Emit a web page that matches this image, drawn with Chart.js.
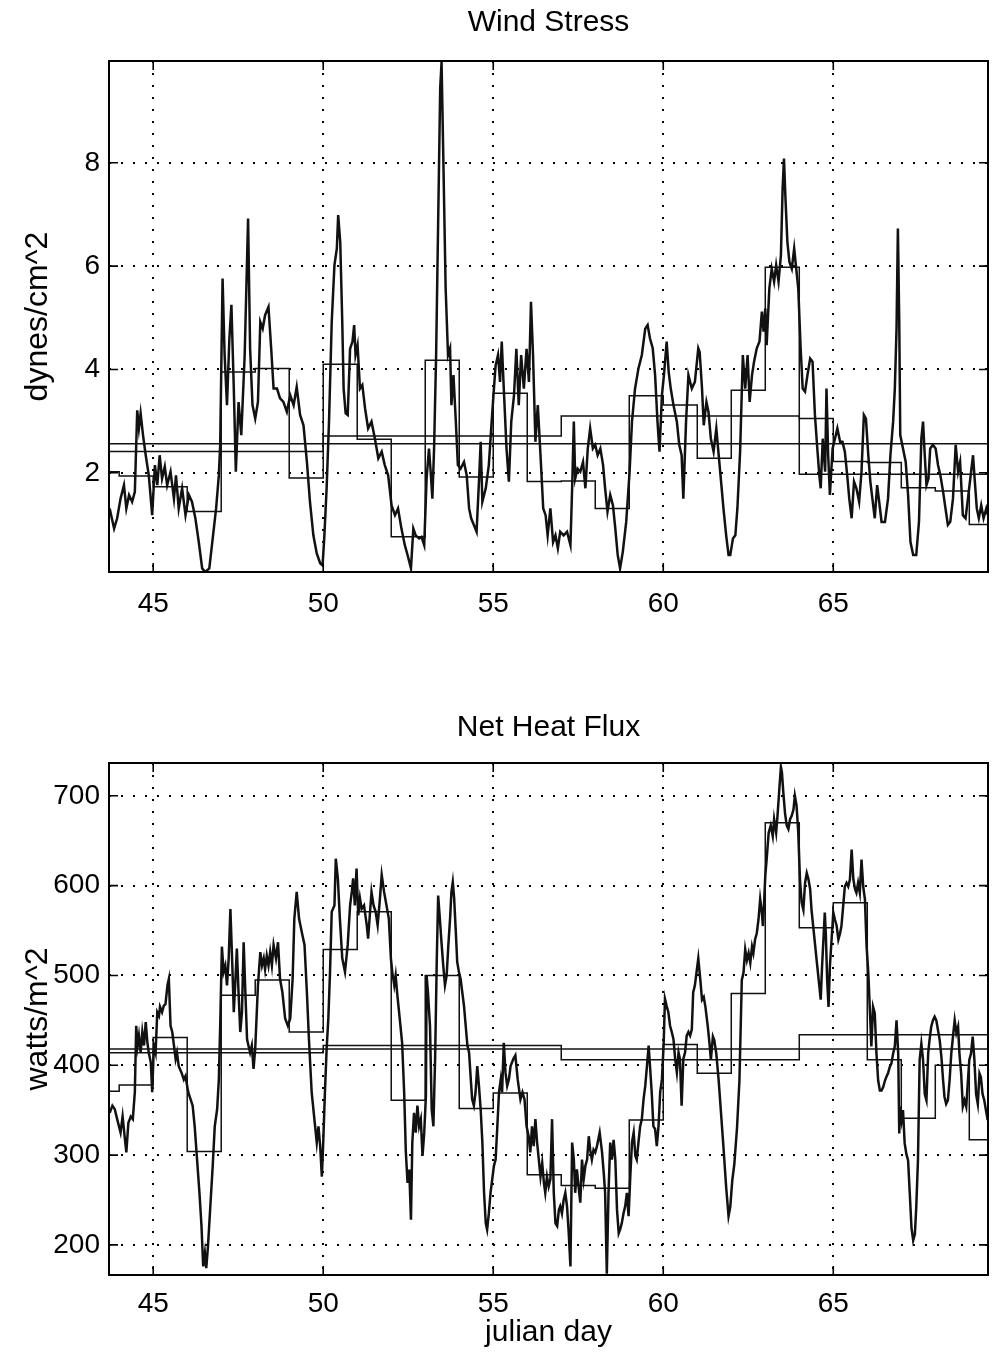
<!DOCTYPE html>
<html>
<head>
<meta charset="utf-8">
<script src="https://cdn.jsdelivr.net/npm/chart.js@4"></script>
<style>
  body { margin: 0; background: #fff; }
  .panel { position: absolute; left: 0; width: 997px; }
</style>
</head>
<body>
<div class="panel" style="top:0;height:680px"><canvas id="windChart"></canvas></div>
<div class="panel" style="top:680px;height:681px"><canvas id="heatChart"></canvas></div>
<script>
// hourly wind stress (dynes/cm^2)
var windDays = [
  43.72,43.85,43.94,44.04,44.14,44.21,44.29,44.38,44.46,44.53,
  44.58,44.63,44.7,44.78,44.87,44.97,45.05,45.12,45.19,45.26,
  45.34,45.41,45.51,45.61,45.67,45.75,45.85,45.95,46.05,46.14,
  46.24,46.34,46.44,46.53,46.65,46.75,46.85,46.93,46.97,47.04,
  47.1,47.17,47.24,47.3,47.37,47.43,47.51,47.59,47.69,47.79,
  47.85,47.92,48.0,48.08,48.15,48.22,48.29,48.39,48.47,48.54,
  48.64,48.73,48.83,48.93,49.03,49.13,49.22,49.32,49.42,49.52,
  49.61,49.71,49.81,49.91,49.98,50.03,50.1,50.17,50.25,50.33,
  50.4,50.44,50.5,50.56,50.6,50.66,50.72,50.79,50.86,50.91,
  50.95,51.01,51.08,51.15,51.23,51.32,51.42,51.52,51.62,51.72,
  51.81,51.91,52.01,52.11,52.2,52.3,52.4,52.48,52.58,52.65,
  52.72,52.82,52.89,52.97,53.04,53.11,53.16,53.21,53.26,53.32,
  53.38,53.44,53.48,53.53,53.6,53.67,53.73,53.77,53.83,53.9,
  53.96,54.04,54.14,54.22,54.29,54.35,54.43,54.51,54.58,54.63,
  54.68,54.78,54.87,54.94,55.02,55.07,55.14,55.2,55.25,55.31,
  55.39,55.46,55.53,55.61,55.68,55.75,55.82,55.9,55.98,56.05,
  56.11,56.17,56.24,56.31,56.39,56.47,56.54,56.6,56.68,56.76,
  56.83,56.9,56.97,57.07,57.17,57.27,57.32,57.37,57.41,57.48,
  57.56,57.64,57.71,57.78,57.85,57.93,58.0,58.07,58.15,58.23,
  58.29,58.36,58.44,58.52,58.59,58.66,58.73,58.81,58.91,59.01,
  59.08,59.17,59.27,59.37,59.47,59.54,59.61,59.69,59.76,59.83,
  59.89,59.96,60.02,60.1,60.16,60.22,60.3,60.4,60.47,60.54,
  60.59,60.67,60.74,60.84,60.93,61.03,61.07,61.14,61.19,61.27,
  61.33,61.4,61.48,61.56,61.63,61.7,61.77,61.85,61.92,61.97,
  62.05,62.12,62.18,62.26,62.34,62.41,62.48,62.54,62.61,62.67,
  62.75,62.83,62.9,62.95,63.0,63.04,63.12,63.19,63.26,63.32,
  63.39,63.46,63.51,63.55,63.59,63.65,63.71,63.78,63.85,63.91,
  63.97,64.04,64.1,64.17,64.24,64.32,64.39,64.46,64.53,64.59,
  64.63,64.69,64.76,64.8,64.85,64.9,64.98,65.05,65.12,65.2,
  65.27,65.34,65.41,65.47,65.54,65.61,65.68,65.76,65.83,65.9,
  65.96,66.03,66.09,66.15,66.22,66.29,66.35,66.42,66.52,66.61,
  66.68,66.76,66.81,66.86,66.9,66.94,66.97,67.05,67.13,67.2,
  67.27,67.35,67.44,67.52,67.59,67.64,67.69,67.74,67.8,67.85,
  67.93,68.01,68.08,68.15,68.23,68.3,68.37,68.44,68.52,68.6,
  68.67,68.73,68.81,68.89,68.96,69.03,69.11,69.15,69.22,69.28,
  69.35,69.42,69.5,69.55
];
var windStress = [
  1.31,0.92,1.12,1.5,1.76,1.31,1.57,1.44,1.63,3.21,
  2.86,3.15,2.73,2.34,1.95,1.18,2.15,1.76,2.34,1.89,
  2.12,1.76,2.02,1.5,1.95,1.31,1.7,1.18,1.57,1.44,
  1.12,0.66,0.15,0.08,0.15,0.73,1.31,1.95,2.54,5.76,
  4.28,3.31,4.6,5.25,3.63,2.02,3.37,2.73,4.28,6.92,
  4.4,3.31,3.05,3.37,4.92,4.79,5.05,5.21,4.4,3.63,
  3.63,3.44,3.37,3.18,3.5,3.31,3.66,3.12,2.92,2.21,
  1.44,0.79,0.44,0.25,0.21,0.73,1.7,2.99,4.92,6.02,
  6.34,6.99,6.47,4.92,3.63,3.15,3.12,4.4,4.54,4.86,
  4.28,4.47,3.63,3.7,3.25,2.86,2.99,2.66,2.28,2.41,
  2.15,1.95,1.37,1.18,1.31,0.92,0.6,0.41,0.15,0.92,
  0.79,0.73,0.76,0.6,1.89,2.47,2.02,1.5,2.47,4.28,
  6.86,9.44,9.95,8.15,5.57,4.28,4.41,3.31,3.89,2.99,
  2.15,2.08,2.21,1.95,1.31,1.12,0.99,0.86,1.83,2.6,
  1.44,1.7,2.15,2.86,3.63,4.08,4.28,3.76,4.54,3.63,
  2.47,1.83,2.99,3.5,4.4,3.31,4.28,3.63,4.4,3.76,
  5.31,4.28,2.6,3.31,2.34,1.31,1.18,0.79,1.31,0.66,
  0.79,0.54,0.86,0.79,0.86,0.6,1.7,2.99,1.89,2.08,
  2.02,2.21,1.7,2.47,2.86,2.47,2.54,2.34,2.47,2.15,
  1.7,1.25,1.57,1.37,0.92,0.41,0.15,0.47,1.05,2.02,
  2.99,3.63,4.02,4.28,4.79,4.86,4.6,4.41,3.89,2.99,
  2.41,3.5,3.89,4.54,3.95,3.63,3.31,2.99,2.54,2.34,
  1.5,2.99,3.89,3.63,3.76,4.41,4.34,3.63,2.92,3.37,
  3.18,2.66,2.41,2.86,2.34,1.83,1.31,0.79,0.41,0.41,
  0.73,0.79,1.31,2.41,4.28,3.63,4.28,3.37,3.89,4.15,
  4.41,4.54,5.12,4.73,5.18,4.47,5.57,5.95,5.7,6.02,
  5.7,6.21,7.5,8.08,7.37,6.47,6.08,5.95,6.34,5.95,
  5.57,4.41,3.63,3.57,3.89,4.21,4.15,3.12,2.47,1.95,
  1.7,2.66,2.02,3.63,2.34,1.57,2.47,2.66,2.86,2.6,
  2.6,2.41,1.95,1.5,1.12,1.83,1.7,1.44,2.02,3.12,
  3.05,2.34,1.83,1.5,1.12,1.76,1.44,1.05,1.05,1.5,
  2.34,2.99,3.63,4.79,6.73,4.92,2.73,2.47,2.21,1.57,
  0.66,0.41,0.41,1.05,2.66,2.99,2.34,1.76,1.89,2.47,
  2.54,2.47,2.15,1.95,1.63,1.31,0.99,1.05,1.5,2.54,
  2.02,2.21,1.18,1.12,1.5,1.89,2.34,1.95,1.31,1.12,
  1.37,1.12,1.31,1.18
];

// hourly net heat flux (watts/m^2)
var heatDays = [
  43.72,43.8,43.87,43.94,44.04,44.1,44.17,44.21,44.27,44.34,
  44.4,44.46,44.5,44.54,44.58,44.63,44.68,44.73,44.78,44.83,
  44.87,44.93,44.97,45.02,45.07,45.12,45.17,45.2,45.26,45.31,
  45.36,45.42,45.46,45.51,45.56,45.61,45.66,45.7,45.75,45.83,
  45.9,45.95,46.03,46.1,46.16,46.22,46.29,46.36,46.42,46.47,
  46.52,46.56,46.61,46.68,46.75,46.81,46.88,46.93,46.97,47.02,
  47.07,47.12,47.17,47.22,47.27,47.32,47.37,47.41,47.46,47.51,
  47.56,47.61,47.66,47.71,47.76,47.8,47.85,47.9,47.95,48.0,
  48.08,48.15,48.2,48.25,48.29,48.34,48.39,48.44,48.49,48.54,
  48.61,48.67,48.73,48.8,48.88,48.96,49.03,49.1,49.15,49.22,
  49.29,49.37,49.45,49.52,49.58,49.66,49.74,49.81,49.86,49.91,
  49.96,50.0,50.05,50.1,50.15,50.2,50.25,50.33,50.37,50.43,
  50.49,50.56,50.64,50.72,50.79,50.84,50.88,50.93,50.98,51.03,
  51.08,51.13,51.2,51.28,51.32,51.37,51.42,51.48,51.54,51.6,
  51.66,51.72,51.79,51.86,51.93,51.99,52.03,52.09,52.13,52.18,
  52.25,52.32,52.38,52.43,52.48,52.53,52.58,52.62,52.67,52.72,
  52.77,52.82,52.87,52.92,52.97,53.02,53.04,53.08,53.14,53.19,
  53.24,53.29,53.34,53.38,53.43,53.47,53.53,53.58,53.63,53.68,
  53.73,53.77,53.81,53.85,53.9,53.94,53.99,54.04,54.09,54.14,
  54.19,54.24,54.29,54.34,54.38,54.43,54.48,54.53,54.58,54.63,
  54.68,54.73,54.78,54.82,54.87,54.92,54.97,55.02,55.07,55.12,
  55.17,55.22,55.26,55.31,55.36,55.41,55.46,55.51,55.59,55.65,
  55.72,55.8,55.86,55.92,55.98,56.04,56.09,56.14,56.19,56.24,
  56.29,56.34,56.39,56.44,56.49,56.53,56.58,56.63,56.68,56.73,
  56.78,56.83,56.88,56.93,56.97,57.02,57.07,57.12,57.17,57.22,
  57.27,57.32,57.37,57.41,57.46,57.51,57.56,57.61,57.66,57.71,
  57.76,57.81,57.85,57.9,57.95,58.0,58.05,58.13,58.2,58.25,
  58.29,58.34,58.39,58.44,58.49,58.54,58.59,58.64,58.69,58.73,
  58.78,58.83,58.88,58.93,58.98,59.03,59.08,59.13,59.18,59.22,
  59.27,59.32,59.37,59.42,59.47,59.52,59.57,59.61,59.66,59.71,
  59.76,59.81,59.86,59.91,59.96,60.01,60.05,60.1,60.15,60.2,
  60.25,60.3,60.35,60.4,60.45,60.49,60.54,60.59,60.64,60.69,
  60.74,60.79,60.84,60.88,60.93,60.98,61.03,61.09,61.14,61.19,
  61.24,61.31,61.36,61.4,61.46,61.5,61.56,61.63,61.7,61.77,
  61.85,61.92,61.97,62.03,62.09,62.17,62.24,62.31,62.36,62.41,
  62.46,62.51,62.56,62.61,62.65,62.7,62.75,62.8,62.85,62.9,
  62.93,62.97,63.0,63.04,63.1,63.16,63.22,63.26,63.32,63.36,
  63.42,63.46,63.49,63.53,63.58,63.63,63.68,63.73,63.78,63.83,
  63.87,63.92,63.97,64.02,64.07,64.12,64.17,64.22,64.27,64.32,
  64.36,64.43,64.51,64.59,64.63,64.67,64.71,64.75,64.78,64.82,
  64.86,64.9,64.95,65.0,65.05,65.1,65.15,65.2,65.24,65.29,
  65.34,65.39,65.44,65.49,65.54,65.59,65.64,65.68,65.73,65.78,
  65.83,65.88,65.93,65.98,66.03,66.08,66.12,66.17,66.22,66.27,
  66.32,66.37,66.42,66.47,66.52,66.56,66.61,66.66,66.71,66.76,
  66.81,66.86,66.91,66.94,66.97,67.01,67.05,67.1,67.15,67.2,
  67.25,67.3,67.35,67.4,67.44,67.49,67.54,67.59,67.64,67.69,
  67.74,67.79,67.83,67.88,67.93,67.98,68.03,68.08,68.13,68.18,
  68.23,68.27,68.32,68.37,68.42,68.47,68.52,68.57,68.62,68.67,
  68.71,68.76,68.81,68.86,68.91,68.96,69.0,69.05,69.1,69.15,
  69.2,69.25,69.3,69.34,69.39,69.44,69.49,69.54
];
var heatFlux = [
  347,355,351,340,325,343,317,303,336,343,
  340,370,444,422,433,414,437,422,448,425,
  414,403,370,422,414,459,455,465,459,466,
  468,489,496,444,437,422,407,414,399,392,
  384,388,370,362,355,332,295,258,221,176,
  191,174,198,243,288,332,351,384,444,532,
  504,511,489,519,574,519,459,489,530,481,
  437,459,537,481,429,422,414,422,396,418,
  489,526,511,519,507,522,511,526,511,534,
  519,537,496,481,452,444,452,496,563,593,
  563,548,534,481,429,370,340,314,332,310,
  276,314,370,418,452,504,571,578,630,608,
  563,519,504,534,578,593,608,578,619,567,
  586,574,578,556,541,567,593,578,571,556,
  582,612,593,578,563,519,504,489,500,478,
  452,425,370,303,269,284,228,314,347,325,
  355,332,340,299,325,366,500,481,444,351,
  332,407,519,589,563,541,511,489,500,534,
  563,593,604,586,548,515,504,496,481,466,
  444,422,414,384,362,355,370,399,377,351,
  314,258,224,217,235,258,273,288,295,332,
  370,384,370,425,392,377,384,399,407,411,
  384,362,370,362,332,321,303,332,310,340,
  314,295,276,291,269,258,276,265,273,340,
  258,224,221,239,243,235,250,258,243,213,
  176,314,295,258,284,265,247,295,273,288,
  295,321,306,295,306,303,310,325,303,280,
  258,168,258,314,295,317,295,239,213,217,
  224,235,243,258,232,276,314,325,299,295,
  314,332,340,362,377,399,422,399,370,332,
  329,310,332,370,384,422,474,466,459,444,
  437,429,407,392,414,407,355,407,414,433,
  437,433,440,481,489,504,519,495,473,476,
  465,443,424,406,432,428,413,383,346,309,
  264,232,242,272,290,331,383,495,503,529,
  517,525,514,532,525,540,547,562,585,570,
  555,585,611,629,659,667,655,674,659,678,
  711,732,726,704,681,667,663,674,678,685,
  700,689,659,607,581,573,603,614,607,596,
  573,547,517,488,473,510,540,570,547,495,
  465,510,540,570,562,555,540,547,555,577,
  599,603,599,607,640,607,596,592,603,592,
  629,599,585,532,503,458,421,465,458,413,
  383,372,372,376,383,387,391,398,402,413,
  421,450,413,324,354,339,350,313,301,294,
  257,219,205,212,242,294,406,424,406,368,
  361,413,428,443,450,454,450,439,428,409,
  383,365,357,361,383,413,432,450,436,443,
  413,391,354,361,354,383,406,413,432,406,
  368,357,391,387,368,361,350,339
];

// daily means (steps), 7-day means and record mean
var dayEdges = [43.7,44,45,46,47,48,49,50,51,52,53,54,55,56,57,58,59,60,61,62,63,64,65,66,67,68,69,69.55];
var windDaily = [2.02,1.94,1.73,1.25,3.95,4.02,1.9,4.1,2.65,0.76,4.18,1.92,3.54,1.83,1.84,1.31,3.49,3.31,2.28,3.6,5.98,3.05,2.22,2.2,1.71,1.65,1.0];
var heatDaily = [371,378,431,304,478,495,437,529,571,361,500,352,369,278,266,263,339,423,391,480,670,553,581,406,341,400,317];
var weekEdges = [43.7,50,57,64,69.55];
var windWeekly = [2.41,2.71,3.10,1.97];
var heatWeekly = [414,422,406,434];
var windMean = 2.56;
var heatMean = 418;

var xMin = 43.7, xMax = 69.55;
var fontFam = '"Liberation Sans", Arial, Helvetica, sans-serif';

function pts(xs, ys) {
  return xs.map(function(x, i) { return {x: x, y: ys[i]}; });
}
function steps(edges, vals) {
  return edges.map(function(x, i) { return {x: x, y: vals[Math.min(i, vals.length - 1)]}; });
}

// box round the plot plus inward tick marks, matlab style
var framePlugin = {
  id: 'frame',
  afterDraw: function(chart) {
    var ctx = chart.ctx, a = chart.chartArea;
    var sx = chart.scales.x, sy = chart.scales.y;
    ctx.save();
    ctx.strokeStyle = '#000';
    ctx.lineWidth = 1.6;
    ctx.beginPath();
    sx.ticks.forEach(function(t) {
      var p = sx.getPixelForValue(t.value);
      ctx.moveTo(p, a.bottom); ctx.lineTo(p, a.bottom - 9);
      ctx.moveTo(p, a.top); ctx.lineTo(p, a.top + 9);
    });
    sy.ticks.forEach(function(t) {
      var p = sy.getPixelForValue(t.value);
      ctx.moveTo(a.left, p); ctx.lineTo(a.left + 9, p);
      ctx.moveTo(a.right, p); ctx.lineTo(a.right - 9, p);
    });
    ctx.stroke();
    ctx.lineWidth = 2;
    ctx.strokeRect(a.left, a.top, a.right - a.left, a.bottom - a.top);
    ctx.restore();
  }
};

function makeChart(id, cfg) {
  var lineSet = function(data, w, stepped) {
    return {data: data, borderColor: '#111', borderWidth: w, pointRadius: 0, stepped: stepped, tension: 0};
  };
  new Chart(document.getElementById(id), {
    type: 'line',
    data: {
      datasets: [
        lineSet(pts(cfg.days, cfg.vals), 2.5, false),
        lineSet(steps(dayEdges, cfg.daily), 1.5, true),
        lineSet(steps(weekEdges, cfg.weekly), 1.5, true),
        lineSet([{x: xMin, y: cfg.mean}, {x: xMax, y: cfg.mean}], 1.5, false)
      ]
    },
    options: {
      responsive: true,
      maintainAspectRatio: false,
      animation: false,
      layout: {padding: {left: 0, right: 9, top: 0, bottom: 0}},
      plugins: {
        legend: {display: false},
        tooltip: {enabled: false},
        title: {
          display: true, text: cfg.title, color: '#000', fullSize: false,
          font: {family: fontFam, size: 30, weight: 'normal'},
          padding: cfg.titlePad
        }
      },
      scales: {
        x: {
          type: 'linear', min: xMin, max: xMax,
          afterFit: function(s) { s.height = cfg.xHeight; },
          ticks: {stepSize: 5, includeBounds: false, color: '#000', padding: cfg.xPad, maxRotation: 0,
                  font: {family: fontFam, size: 28}},
          grid: {color: '#000', lineWidth: 2, drawTicks: false},
          border: {display: false, dash: [2, 10]},
          title: {display: cfg.xTitle !== '', text: cfg.xTitle, color: '#000',
                  font: {family: fontFam, size: 30}, padding: {top: 0, bottom: 10}}
        },
        y: {
          min: cfg.yMin, max: cfg.yMax,
          afterFit: function(s) { s.width = 109; },
          ticks: {stepSize: cfg.yStep, includeBounds: false, color: '#000', padding: 9,
                  font: {family: fontFam, size: 28}},
          grid: {color: '#000', lineWidth: 2, drawTicks: false},
          border: {display: false, dash: [2, 10]},
          title: {display: true, text: cfg.yTitle, color: '#000',
                  font: {family: fontFam, size: 32}, padding: {top: 19, bottom: 0}}
        }
      }
    },
    plugins: [framePlugin]
  });
}

makeChart('windChart', {
  title: 'Wind Stress', yTitle: 'dynes/cm^2', xTitle: '',
  days: windDays, vals: windStress, daily: windDaily, weekly: windWeekly, mean: windMean,
  yMin: 0.08, yMax: 9.97, yStep: 2,
  titlePad: {top: 5, bottom: 20}, xHeight: 108, xPad: 15
});

makeChart('heatChart', {
  title: 'Net Heat Flux', yTitle: 'watts/m^2', xTitle: 'julian day',
  days: heatDays, vals: heatFlux, daily: heatDaily, weekly: heatWeekly, mean: heatMean,
  yMin: 166.5, yMax: 736.5, yStep: 100,
  titlePad: {top: 30, bottom: 17}, xHeight: 86, xPad: 12
});
</script>
</body>
</html>
